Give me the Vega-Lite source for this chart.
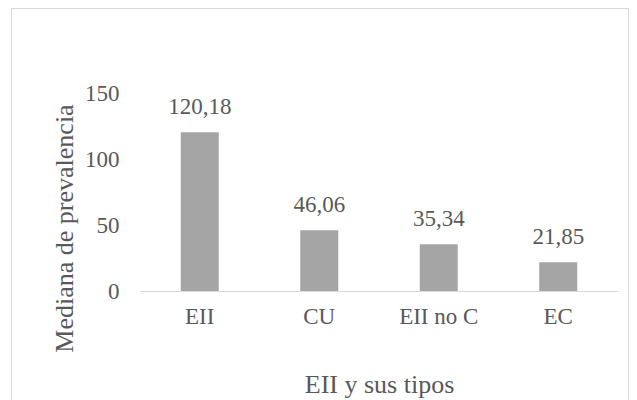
{
  "$schema": "https://vega.github.io/schema/vega-lite/v6.json",
  "width": 617,
  "height": 400,
  "autosize": {"type": "none"},
  "padding": {"left": 11, "top": 8, "right": 9, "bottom": 0},
  "background": "white",
  "config": {
    "view": {"stroke": "#d9d9d9", "strokeWidth": 1},
    "font": "Liberation Serif"
  },
  "data": {
    "values": [
      {"tipo": "EII", "mediana": 120.18, "etiqueta": "120,18"},
      {"tipo": "CU", "mediana": 46.06, "etiqueta": "46,06"},
      {"tipo": "EII no C", "mediana": 35.34, "etiqueta": "35,34"},
      {"tipo": "EC", "mediana": 21.85, "etiqueta": "21,85"}
    ]
  },
  "encoding": {
    "x": {
      "field": "tipo",
      "type": "nominal",
      "sort": null,
      "scale": {"range": [129, 607], "paddingInner": 0.682, "paddingOuter": 0.341},
      "axis": {
        "title": "EII y sus tipos",
        "offset": -117,
        "labelAngle": 0,
        "labelFont": "Liberation Serif",
        "labelFontSize": 23,
        "labelColor": "#595959",
        "labelPadding": 14,
        "labelBaseline": "top",
        "ticks": false,
        "tickSize": 0,
        "domainColor": "#d9d9d9",
        "domainWidth": 1,
        "titleFont": "Liberation Serif",
        "titleFontSize": 26,
        "titleFontWeight": "normal",
        "titleColor": "#595959",
        "titleBaseline": "middle",
        "titleY": 93,
        "grid": false
      }
    },
    "y": {
      "field": "mediana",
      "type": "quantitative",
      "scale": {"domain": [0, 150], "range": [283, 85], "nice": false},
      "axis": {
        "title": "Mediana de prevalencia",
        "offset": -129,
        "values": [0, 50, 100, 150],
        "grid": false,
        "domain": false,
        "ticks": false,
        "tickSize": 0,
        "labelFont": "Liberation Serif",
        "labelFontSize": 23,
        "labelColor": "#595959",
        "labelPadding": 21,
        "titleFont": "Liberation Serif",
        "titleFontSize": 26,
        "titleFontWeight": "normal",
        "titleColor": "#595959",
        "titleBaseline": "middle",
        "titleAlign": "center",
        "titleX": -76,
        "titleY": 220
      }
    }
  },
  "layer": [
    {"mark": {"type": "bar", "color": "#a5a5a5"}},
    {
      "mark": {"type": "text", "font": "Liberation Serif", "fontSize": 23, "color": "#595959", "baseline": "middle", "dy": -25},
      "encoding": {"text": {"field": "etiqueta"}}
    }
  ]
}
